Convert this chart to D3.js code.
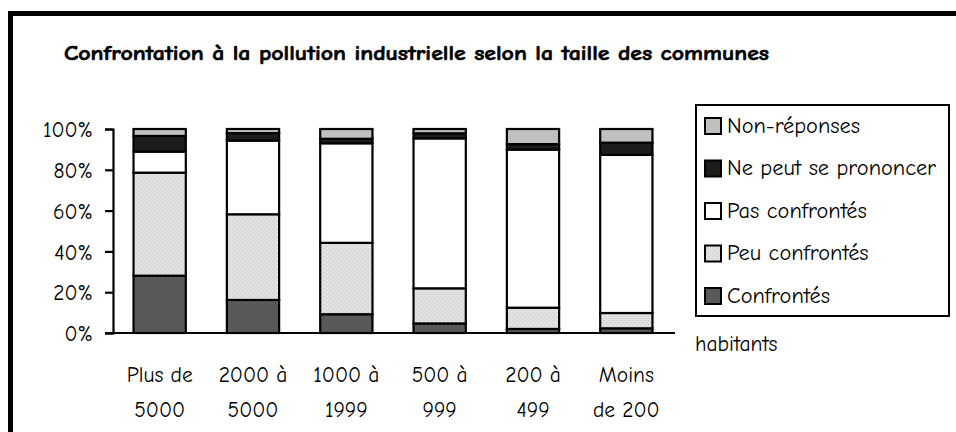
<!DOCTYPE html>
<html>
<head>
<meta charset="utf-8">
<script src="https://cdn.jsdelivr.net/npm/d3@7/dist/d3.min.js"></script>
<style>
  html, body { margin: 0; padding: 0; background: #fff; }
  svg { display: block; }
  text { font-family: "Comic Sans MS", "Comic Neue", "DejaVu Sans", sans-serif; fill: #000; }
</style>
</head>
<body>
<svg id="chart" width="956" height="432"></svg>
<script>
const title = "Confrontation à la pollution industrielle selon la taille des communes";
const categories = ["Plus de\n5000", "2000 à\n5000", "1000 à\n1999", "500 à\n999", "200 à\n499", "Moins\nde 200"];
const seriesNames = ["Confrontés", "Peu confrontés", "Pas confrontés", "Ne peut se prononcer", "Non-réponses"];
const confrontes = [28.1, 16.2, 9.2, 4.7, 2.0, 2.3];
const peuConfrontes = [50.5, 42.0, 35.0, 17.2, 10.4, 7.5];
const pasConfrontes = [10.3, 36.1, 48.8, 73.5, 77.5, 77.5];
const nePeutSePrononcer = [7.7, 3.7, 2.2, 2.5, 2.7, 6.0];
const nonReponses = [3.4, 2.0, 4.8, 2.1, 7.4, 6.7];
const yTicks = [0, 20, 40, 60, 80, 100];
const unitLabel = "habitants";

const seriesValues = [confrontes, peuConfrontes, pasConfrontes, nePeutSePrononcer, nonReponses];
const fills = ["#595959", "url(#dots)", "#ffffff", "#1c1c1c", "#c0c0c0"];

const svg = d3.select("#chart");

// helper: font size so a sample text reaches a target width
function fitSize(sample, target, weight) {
  const t = svg.append("text").attr("font-size", 20).attr("font-weight", weight || "normal").text(sample);
  const w = t.node().getComputedTextLength();
  t.remove();
  return 20 * target / w;
}
const titleSize = Math.min(20, fitSize(title, 705, "bold"));
const tickSize = fitSize("100%", 50);
const catSize = fitSize("Plus de", 66);
const legSize = fitSize("Ne peut se prononcer", 209);

// dotted pattern for "Peu confrontés"
const defs = svg.append("defs");
const pat = defs.append("pattern").attr("id", "dots").attr("patternUnits", "userSpaceOnUse")
  .attr("width", 4).attr("height", 4);
pat.append("rect").attr("width", 4).attr("height", 4).attr("fill", "#e2e2e2");
pat.append("rect").attr("x", 0).attr("y", 0).attr("width", 1).attr("height", 1).attr("fill", "#c4c4c4");
pat.append("rect").attr("x", 2).attr("y", 2).attr("width", 1).attr("height", 1).attr("fill", "#c4c4c4");

// outer frame (only top and left visible)
svg.append("rect").attr("x", 10.5).attr("y", 13.5).attr("width", 1000).attr("height", 1000)
  .attr("fill", "none").attr("stroke", "#000").attr("stroke-width", 5);

// title
svg.append("text").attr("x", 64).attr("y", 60)
  .attr("font-size", titleSize).attr("font-weight", "bold")
  .attr("stroke", "#000").attr("stroke-width", 0.6)
  .attr("textLength", 705).attr("lengthAdjust", "spacingAndGlyphs")
  .text(title);

const plot = { left: 113, right: 673, top: 129, bottom: 333 };

const x = d3.scaleBand().domain(categories).range([plot.left, plot.right])
  .paddingInner(0.44).paddingOuter(0.22);
const y = d3.scaleLinear().domain([0, 100]).range([plot.bottom, plot.top]);

// stacked data
const table = categories.map((c, i) => {
  const row = { cat: c };
  seriesNames.forEach((s, k) => row[s] = seriesValues[k][i]);
  return row;
});
const stacked = d3.stack().keys(seriesNames)(table);

const g = svg.append("g");
stacked.forEach((layer, k) => {
  g.selectAll(null).data(layer).enter().append("rect")
    .attr("x", d => x(d.data.cat))
    .attr("width", x.bandwidth())
    .attr("y", d => y(d[1]))
    .attr("height", d => y(d[0]) - y(d[1]))
    .attr("fill", fills[k])
    .attr("stroke", "#000").attr("stroke-width", 2.2);
});

// y axis
const yAxis = d3.axisLeft(y).tickValues(yTicks).tickFormat(d => d + "%").tickSize(8).tickPadding(12);
const ya = svg.append("g").attr("transform", `translate(${plot.left},0)`).call(yAxis);
ya.select(".domain").attr("stroke", "#000").attr("stroke-width", 2.2);
ya.selectAll(".tick line").attr("stroke", "#000").attr("stroke-width", 2.2);
ya.selectAll(".tick text").attr("font-size", tickSize).attr("font-family", null).attr("dy", "0.36em");
ya.attr("font-family", null).attr("font-size", null);

// x axis line
const xAxis = d3.axisBottom(x).tickSize(0).tickFormat("");
const xa = svg.append("g").attr("transform", `translate(0,${plot.bottom})`).call(xAxis);
xa.select(".domain").attr("stroke", "#000").attr("stroke-width", 2.2)
  .attr("d", `M${plot.left - 8},0H${plot.right + 2}`);

// category labels (two lines)
categories.forEach(c => {
  const lines = c.split("\n");
  const t = svg.append("text").attr("text-anchor", "middle").attr("font-size", catSize)
    .attr("x", x(c) + x.bandwidth() / 2);
  lines.forEach((ln, j) => {
    t.append("tspan").attr("x", x(c) + x.bandwidth() / 2).attr("y", 382 + j * 35).text(ln);
  });
});

// unit label
svg.append("text").attr("x", 695).attr("y", 351).attr("font-size", catSize).text(unitLabel);

// legend
const legendBox = { x: 696, y: 105, w: 253, h: 211 };
svg.append("rect").attr("x", legendBox.x).attr("y", legendBox.y)
  .attr("width", legendBox.w).attr("height", legendBox.h)
  .attr("fill", "#fff").attr("stroke", "#000").attr("stroke-width", 2);
const legendOrder = seriesNames.map((s, k) => k).reverse();
const ly = d3.scalePoint().domain(legendOrder).range([126, 296]);
legendOrder.forEach(k => {
  const cy = ly(k);
  svg.append("rect").attr("x", 705).attr("y", cy - 8).attr("width", 16).attr("height", 16)
    .attr("fill", fills[k]).attr("stroke", "#000").attr("stroke-width", 2);
  svg.append("text").attr("x", 727).attr("y", cy + 6.5).attr("font-size", legSize).text(seriesNames[k]);
});
</script>
</body>
</html>
